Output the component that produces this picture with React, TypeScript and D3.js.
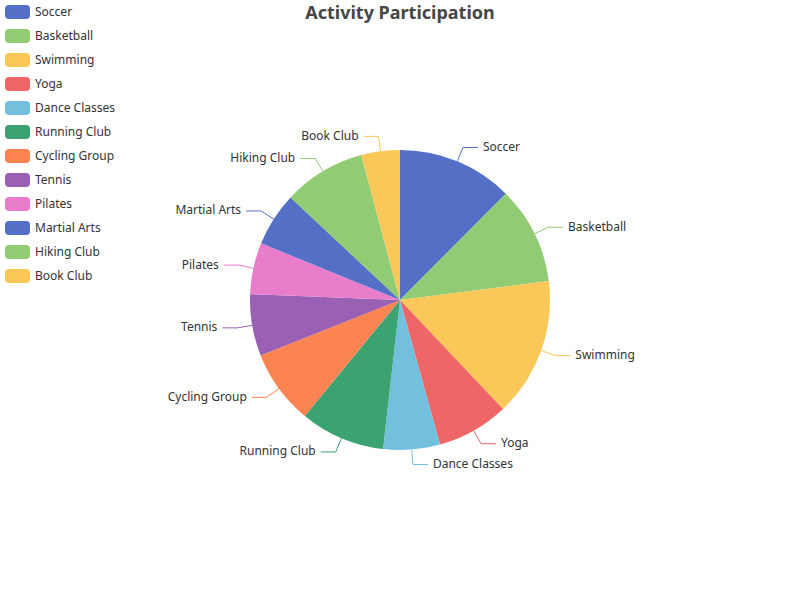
import React from 'react';
import * as d3 from 'd3';

const activities = ['Soccer', 'Basketball', 'Swimming', 'Yoga', 'Dance Classes', 'Running Club', 'Cycling Group', 'Tennis', 'Pilates', 'Martial Arts', 'Hiking Club', 'Book Club'];
const participants = [45, 38, 54, 28, 22, 33, 29, 24, 20, 21, 32, 15];
const palette = ['#5470c6', '#91cc75', '#fac858', '#ee6666', '#73c0de', '#3ba272', '#fc8452', '#9a60b4', '#ea7ccc'];

const App = () => {
  const width = 800;
  const height = 600;
  const cx = 400;
  const cy = 300;
  const radius = 150;
  const len1 = 15;
  const len2 = 15;

  const data = activities.map((name, i) => ({ name, value: participants[i] }));
  const color = (i: number) => palette[i % palette.length];

  const pie = d3.pie<{ name: string; value: number }>()
    .value(d => d.value)
    .sort(null);
  const arcs = pie(data);
  const arc = d3.arc<d3.PieArcDatum<{ name: string; value: number }>>()
    .innerRadius(0)
    .outerRadius(radius);

  const font = '"Noto Sans", sans-serif';

  return (
    <svg width={width} height={height} style={{ position: 'absolute', left: 0, top: 0 }}>
      <text x={cx} y={12} textAnchor="middle" dominantBaseline="central"
        fontFamily={font} fontSize={18} fontWeight="bold" fill="#464646">
        Activity Participation
      </text>

      {/* legend */}
      <g>
        {data.map((d, i) => (
          <g key={d.name} transform={`translate(5,${5 + i * 24})`}>
            <rect width={25} height={14} rx={4} fill={color(i)} />
            <text x={30} y={6} dominantBaseline="central" fontFamily={font} fontSize={12} fill="#333">
              {d.name}
            </text>
          </g>
        ))}
      </g>

      <g transform={`translate(${cx},${cy})`}>
        {arcs.map((a, i) => (
          <path key={a.data.name} d={arc(a) ?? ''} fill={color(i)} />
        ))}
        {arcs.map((a, i) => {
          const mid = (a.startAngle + a.endAngle) / 2;
          const sx = Math.sin(mid), sy = -Math.cos(mid);
          const p0 = [sx * radius, sy * radius];
          const p1 = [sx * (radius + len1), sy * (radius + len1)];
          const right = sx >= 0;
          const p2 = [p1[0] + (right ? len2 : -len2), p1[1]];
          return (
            <g key={a.data.name + '-label'}>
              <polyline points={[p0, p1, p2].map(p => p.join(',')).join(' ')}
                fill="none" stroke={color(i)} strokeWidth={1} />
              <text x={p2[0] + (right ? 5 : -5)} y={p2[1] - 1} textAnchor={right ? 'start' : 'end'}
                dominantBaseline="central" fontFamily={font} fontSize={12} fill="#333">
                {a.data.name}
              </text>
            </g>
          );
        })}
      </g>
    </svg>
  );
};

export default App;
